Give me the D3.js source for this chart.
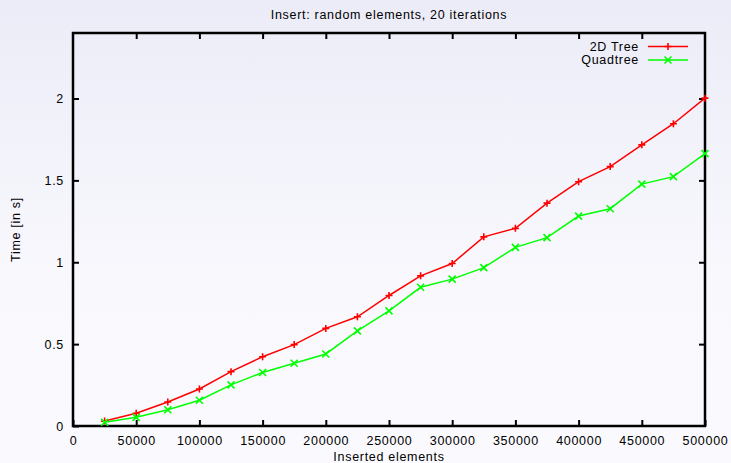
<!DOCTYPE html>
<html>
<head>
<meta charset="utf-8">
<script src="https://cdn.jsdelivr.net/npm/d3@7"></script>
<style>
  html, body { margin: 0; padding: 0; }
  svg text { font-family: "Liberation Sans", Arial, sans-serif; font-size: 12.5px; letter-spacing: 0.7px; fill: #000; }
</style>
</head>
<body>
<div id="chart"></div>
<script>
// 데이터
const xValues = [25000, 50000, 75000, 100000, 125000, 150000, 175000, 200000, 225000, 250000,
                 275000, 300000, 325000, 350000, 375000, 400000, 425000, 450000, 475000, 500000];
const tree2d = [0.030, 0.078, 0.147, 0.226, 0.332, 0.423, 0.497, 0.596, 0.667, 0.797,
                0.917, 0.992, 1.155, 1.207, 1.361, 1.492, 1.584, 1.717, 1.846, 2.002];
const quadtree = [0.023, 0.053, 0.099, 0.157, 0.251, 0.327, 0.383, 0.440, 0.581, 0.703,
                  0.847, 0.897, 0.967, 1.091, 1.150, 1.282, 1.327, 1.477, 1.523, 1.663];
const xTicks = [0, 50000, 100000, 150000, 200000, 250000, 300000, 350000, 400000, 450000, 500000];
const yTicks = [0, 0.5, 1, 1.5, 2];
const seriesNames = ['2D Tree', 'Quadtree'];
const seriesColors = ['#ff0000', '#00ff00'];

const width = 731, height = 463;
const margin = { top: 33, right: 26, bottom: 37, left: 73 };
const innerW = width - margin.left - margin.right;
const innerH = height - margin.top - margin.bottom;

const svg = d3.select('#chart').append('svg')
    .attr('width', width)
    .attr('height', height);

// 배경 그라데이션
const grad = svg.append('defs').append('linearGradient')
    .attr('id', 'bg').attr('x1', 0).attr('y1', 0).attr('x2', 0).attr('y2', 1);
grad.append('stop').attr('offset', '0%').attr('stop-color', '#ececf8');
grad.append('stop').attr('offset', '60%').attr('stop-color', '#f8f8fd');
grad.append('stop').attr('offset', '100%').attr('stop-color', '#fafafe');
svg.append('rect').attr('width', width).attr('height', height).attr('fill', 'url(#bg)');

const g = svg.append('g').attr('transform', `translate(${margin.left},${margin.top})`);

const x = d3.scaleLinear().domain([0, 500000]).range([0, innerW]);
const y = d3.scaleLinear().domain([0, 2.4]).range([innerH, 0]);

// 축
const axisStyle = sel => {
    sel.select('.domain').remove();
    sel.selectAll('.tick line').attr('stroke', '#000').attr('stroke-width', 2);
};
g.append('g').attr('transform', `translate(0,${innerH})`)
    .call(d3.axisBottom(x).tickValues(xTicks).tickFormat(d3.format('d')).tickSizeInner(-6).tickSizeOuter(0).tickPadding(10))
    .call(axisStyle)
    .selectAll('text').attr('font-size', null).attr('font-family', null);
g.append('g')
    .call(d3.axisTop(x).tickValues(xTicks.slice(1, -1)).tickFormat('').tickSizeInner(-6).tickSizeOuter(0))
    .call(axisStyle);
g.append('g')
    .call(d3.axisLeft(y).tickValues(yTicks).tickFormat(d3.format('')).tickSizeInner(-6).tickSizeOuter(0).tickPadding(9))
    .call(axisStyle)
    .selectAll('text').attr('font-size', null).attr('font-family', null);
g.append('g').attr('transform', `translate(${innerW},0)`)
    .call(d3.axisRight(y).tickValues(yTicks.slice(1)).tickFormat('').tickSizeInner(-6).tickSizeOuter(0))
    .call(axisStyle);

svg.selectAll('.tick text').style('font-family', null);
svg.selectAll('g[font-family]').attr('font-family', null).attr('font-size', null);

// 프레임
g.append('rect')
    .attr('width', innerW).attr('height', innerH)
    .attr('fill', 'none').attr('stroke', '#000').attr('stroke-width', 2.5);

// 시리즈
const allSeries = [tree2d, quadtree];
const line = d3.line().x((d, i) => x(xValues[i])).y(d => y(d));

function drawMarker(sel, type, color) {
    const s = 3.5;
    const path = type === 0
        ? `M${-s},0H${s}M0,${-s}V${s}`
        : `M${-s},${-s}L${s},${s}M${-s},${s}L${s},${-s}`;
    sel.append('path').attr('d', path).attr('stroke', color).attr('stroke-width', 1.6).attr('fill', 'none');
}

allSeries.forEach((vals, si) => {
    g.append('path')
        .datum(vals)
        .attr('d', line)
        .attr('fill', 'none')
        .attr('stroke', seriesColors[si])
        .attr('stroke-width', 1.5);
    g.append('g').selectAll('g')
        .data(vals)
        .enter().append('g')
        .attr('transform', (d, i) => `translate(${x(xValues[i])},${y(d)})`)
        .each(function() { drawMarker(d3.select(this), si, seriesColors[si]); });
});

// 범례
const legend = svg.append('g');
seriesNames.forEach((name, i) => {
    const ly = 46.5 + i * 13.5;
    legend.append('text').attr('x', 639).attr('y', ly).attr('dy', '0.35em')
        .attr('text-anchor', 'end').text(name);
    legend.append('line').attr('x1', 648).attr('x2', 688).attr('y1', ly).attr('y2', ly)
        .attr('stroke', seriesColors[i]).attr('stroke-width', 1.5);
    drawMarker(legend.append('g').attr('transform', `translate(668,${ly})`), i, seriesColors[i]);
});

// 제목 및 축 라벨
svg.append('text').attr('x', margin.left + innerW / 2).attr('y', 19)
    .attr('text-anchor', 'middle').text('Insert: random elements, 20 iterations');
svg.append('text').attr('x', margin.left + innerW / 2).attr('y', 461)
    .attr('text-anchor', 'middle').text('Inserted elements');
svg.append('text')
    .attr('transform', `translate(20,${margin.top + innerH / 2}) rotate(-90)`)
    .attr('text-anchor', 'middle').text('Time [in s]');
</script>
</body>
</html>
